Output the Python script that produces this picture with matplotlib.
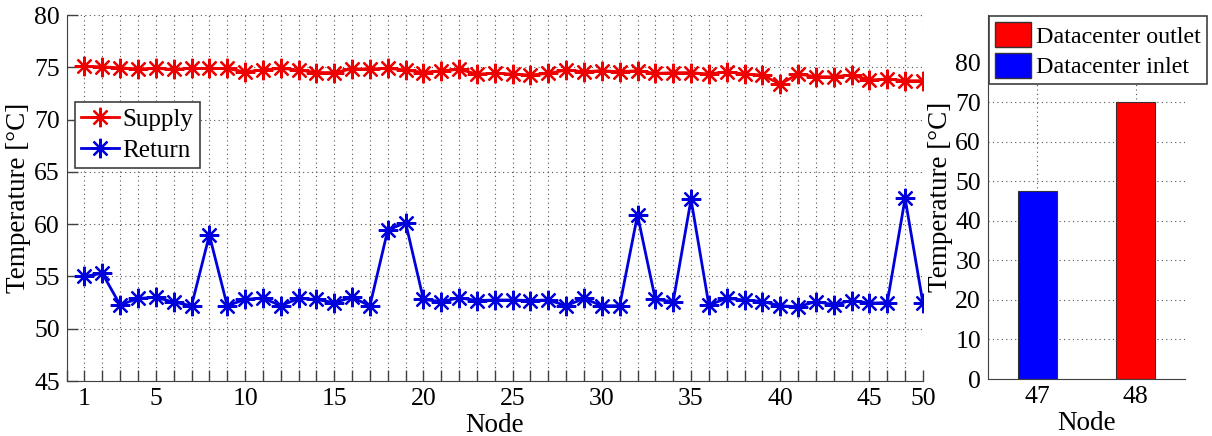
import numpy as np
import matplotlib
matplotlib.use("Agg")
import matplotlib.pyplot as plt
from matplotlib.patches import Patch

plt.rcParams['font.family'] = ['Liberation Serif', 'DejaVu Serif']
plt.rcParams['font.size'] = 18.5

# node numbers (left chart)
nodes = np.arange(1, 49)

supply = [75.1, 75.05, 74.95, 74.85, 74.9, 74.8, 74.9, 74.9, 74.9, 74.55,
          74.75, 74.9, 74.75, 74.5, 74.5, 74.85, 74.85, 74.9, 74.75, 74.5,
          74.68, 74.8, 74.36, 74.42, 74.36, 74.26, 74.42, 74.74, 74.58, 74.68,
          74.58, 74.68, 74.42, 74.49, 74.49, 74.36, 74.58, 74.36, 74.26, 73.4,
          74.36, 74.1, 74.1, 74.26, 73.79, 73.88, 73.72, 73.72]

ret = [55.0, 55.3, 52.27, 52.9, 53.0, 52.55, 52.2, 58.96, 52.2, 52.8,
       52.95, 52.2, 52.9, 52.8, 52.5, 53.0, 52.2, 59.44, 60.14, 52.8,
       52.6, 52.95, 52.7, 52.75, 52.75, 52.7, 52.75, 52.2, 52.9, 52.2,
       52.2, 60.87, 52.8, 52.6, 62.37, 52.27, 52.9, 52.75, 52.6, 52.2,
       52.1, 52.6, 52.3, 52.7, 52.45, 52.5, 62.47, 52.45]

xtick_pos = [1, 5, 10, 15, 20, 25, 30, 35, 40, 45, 48]
xtick_labels = ['1', '5', '10', '15', '20', '25', '30', '35', '40', '45', '50']

# right chart
bar_nodes = [47, 48]
bar_values = [47.5, 70]
bar_colors = ['#0000ff', '#ff0000']

spine_col = '#404040'
grid_kw = dict(color='#555555', linestyle=(0, (1, 3)), linewidth=0.8)
star = (8, 2, 0)

fig = plt.figure(figsize=(12.12, 4.36), dpi=100)

# ---- left: supply / return temperatures ----
ax = fig.add_axes([0.055, 0.1261, 0.7065, 0.8394])
ax.plot(nodes, supply, color='#ee0000', lw=2, marker=star, ms=14, mew=1.6, label='Supply')
ax.plot(nodes, ret, color='#0000dd', lw=2, marker=star, ms=14, mew=1.6, label='Return')
ax.set_xlim(0, 48)
ax.set_ylim(45, 80)
ax.set_xticks(xtick_pos)
ax.set_xticklabels(xtick_labels)
ax.set_xticks(np.arange(0, 49), minor=True)
ax.set_yticks(np.arange(45, 81, 5))
ax.tick_params(which='both', direction='in', length=8, width=1, color=spine_col, pad=5)
ax.grid(True, which='both', axis='x', **grid_kw)
ax.grid(True, which='major', axis='y', **grid_kw)
ax.set_axisbelow(True)
for s in ['top', 'right']:
    ax.spines[s].set_visible(False)
for s in ['left', 'bottom']:
    ax.spines[s].set_color(spine_col)
ax.set_xlabel('Node', labelpad=2, fontsize=19.5)
ax.set_ylabel('Temperature [°C]', labelpad=2, fontsize=19.5)
leg = ax.legend(loc='upper left', bbox_to_anchor=(0.0619, 0.766), bbox_transform=fig.transFigure,
                fancybox=False, edgecolor=spine_col, framealpha=1, handlelength=1.5,
                handletextpad=0.15, borderpad=0.25, labelspacing=0.35, borderaxespad=0,
                fontsize=18)
leg.get_frame().set_linewidth(1.2)

# ---- right: datacenter bars ----
ax2 = fig.add_axes([0.8152, 0.1307, 0.1625, 0.8349])
ax2.bar(bar_nodes, bar_values, width=0.4, color=bar_colors, edgecolor='#333333', linewidth=0.8)
ax2.set_xlim(46.5, 48.5)
ax2.set_ylim(0, 92)
ax2.set_xticks(bar_nodes)
ax2.set_yticks(np.arange(0, 81, 10))
ax2.tick_params(which='both', direction='in', length=0, pad=5)
ax2.grid(True, **grid_kw)
ax2.set_axisbelow(True)
for s in ['top', 'right']:
    ax2.spines[s].set_visible(False)
for s in ['left', 'bottom']:
    ax2.spines[s].set_color(spine_col)
ax2.set_xlabel('Node', labelpad=2, fontsize=19.5)
ax2.set_ylabel('Temperature [°C]', labelpad=2, fontsize=19.5)
handles = [Patch(facecolor='#ff0000', edgecolor='#333333', label='Datacenter outlet'),
           Patch(facecolor='#0000ff', edgecolor='#333333', label='Datacenter inlet')]
leg2 = ax2.legend(handles=handles, loc='upper right', bbox_to_anchor=(0.9959, 0.9633),
                  bbox_transform=fig.transFigure, fancybox=False, edgecolor=spine_col,
                  framealpha=1, handlelength=1.5, handleheight=1.25, handletextpad=0.2,
                  borderpad=0.25, labelspacing=0.2, borderaxespad=0, fontsize=17.3)
leg2.get_frame().set_linewidth(1.2)

fig.savefig('out.png', dpi=100)
